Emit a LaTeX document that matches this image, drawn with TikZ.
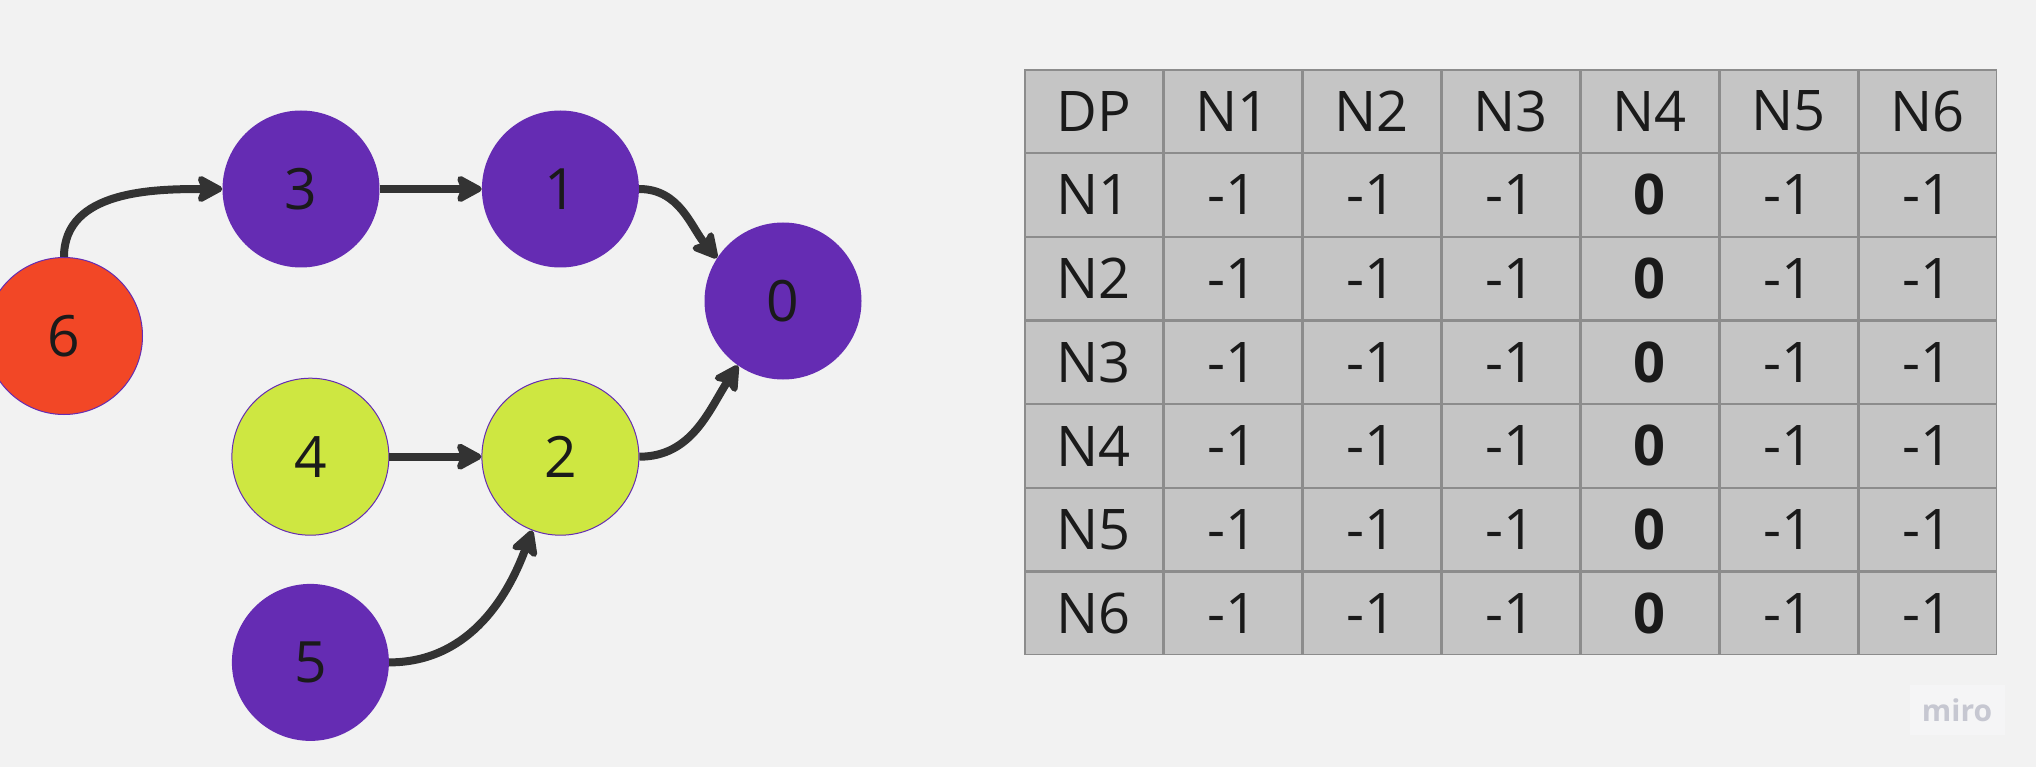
\documentclass[tikz,border=0pt]{standalone}
\usepackage{fontspec}
\setmainfont{Open Sans}
\usetikzlibrary{arrows.meta, positioning, matrix}
\definecolor{bgcol}{HTML}{F2F2F2}
\definecolor{vio}{HTML}{652CB3}
\definecolor{redor}{HTML}{F24726}
\definecolor{lime}{HTML}{CEE741}
\definecolor{inkcol}{HTML}{1A1A1A}
\definecolor{linecol}{HTML}{333333}
\definecolor{cellgray}{HTML}{C5C5C5}
\definecolor{gridcol}{HTML}{8C8C8C}
\definecolor{wmbox}{HTML}{F5F5F6}
\definecolor{wmtext}{HTML}{C6C7D1}

\begin{document}
\begin{tikzpicture}[x=1pt, y=1pt,
  vertex/.style={circle, minimum size=157pt, inner sep=0pt, font=\fontsize{57}{60}\selectfont, text=inkcol},
  violet/.style={vertex, fill=vio},
  ringed/.style={vertex, draw=vio, line width=1pt},
  link/.style={draw=linecol, line width=8pt, -{Stealth[length=30pt, width=32pt, inset=6pt, round]}},
  cell/.style={draw=gridcol, line width=1.2pt, fill=cellgray, minimum width=137.8pt, minimum height=82.5pt, inner sep=0pt, outer sep=0pt, anchor=center, font=\fontsize{56}{60}\selectfont, text=inkcol}]
\fill[bgcol] (0,0) rectangle (2036,-767);
\useasboundingbox (0,0) rectangle (2036,-767);
% graph
\node[violet] (N3) at (301,-189) {3};
\node[violet, right=102pt of N3] (N1) {1};
\node[violet] (N0) at (783,-301) {0};
\node[ringed, fill=lime, below=110pt of N1] (N2) {2};
\node[ringed, fill=lime, left=92pt of N2] (N4) {4};
\node[violet, below=48pt of N4] (N5) {5};
\node[ringed, fill=redor] (N6) at (64,-336) {6};
\draw[link] (N6.north) to[out=90, in=180] (N3.west);
\draw[link] (N3) -- (N1);
\draw[link] (N1.east) to[out=0, in=130] (N0.147);
\draw[link] (N4) -- (N2);
\draw[link] (N2.east) to[out=0, in=237] (N0.235);
\draw[link] (N5.east) to[out=0, in=250] (N2.249);
% table
\matrix (DP) [matrix of nodes, anchor=north west, inner sep=0pt, outer sep=0pt, column sep=0pt, row sep=0pt, nodes={cell}] at (1024.3,-69.3) {
DP & N1 & N2 & N3 & N4 & N5 & N6 \\
N1 & -1 & -1 & -1 & \textbf{0} & -1 & -1 \\
N2 & -1 & -1 & -1 & \textbf{0} & -1 & -1 \\
N3 & -1 & -1 & -1 & \textbf{0} & -1 & -1 \\
N4 & -1 & -1 & -1 & \textbf{0} & -1 & -1 \\
N5 & -1 & -1 & -1 & \textbf{0} & -1 & -1 \\
N6 & -1 & -1 & -1 & \textbf{0} & -1 & -1 \\
};
\node[fill=wmbox, minimum width=95pt, minimum height=50pt, text=wmtext, font=\bfseries\fontsize{30}{30}\selectfont] (miro) at (1957,-710) {miro};
\end{tikzpicture}
\end{document}
